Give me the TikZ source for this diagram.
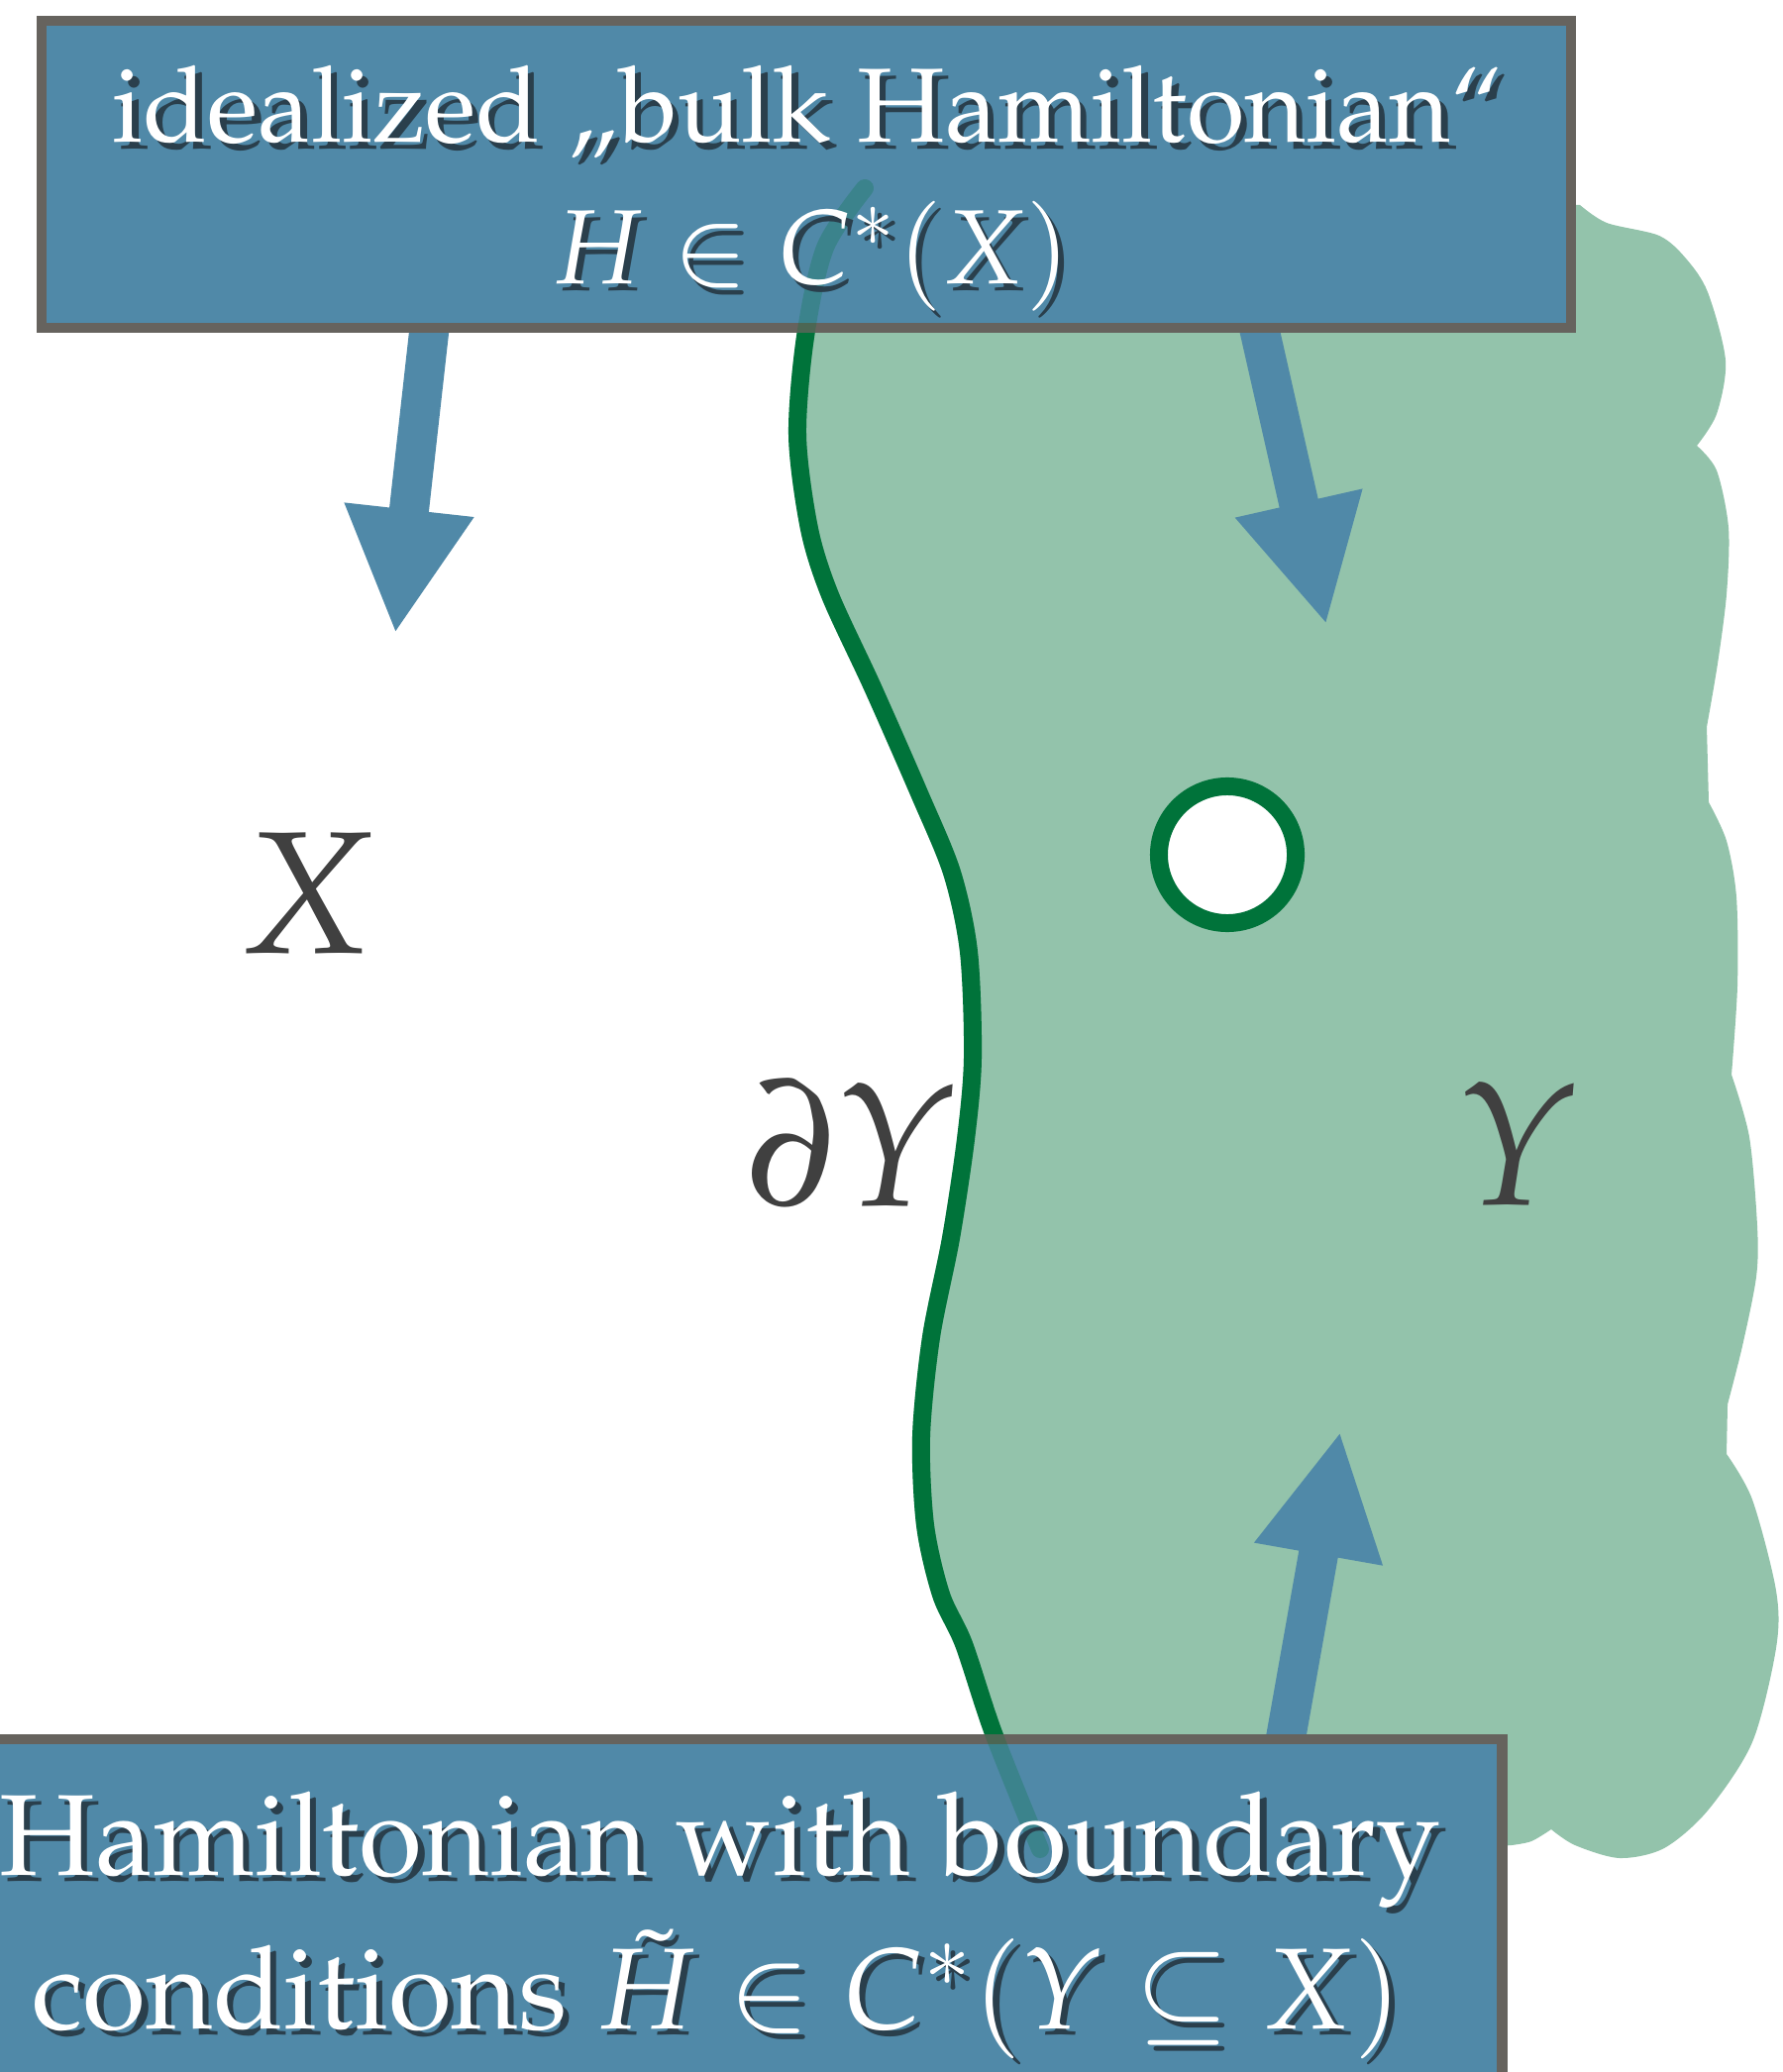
\documentclass[tikz,border=0pt]{standalone}
\usepackage[T1]{fontenc}
\usepackage{mathpazo}
\usepackage{amsmath}
\usepackage{tikz}
\usetikzlibrary{positioning,arrows.meta}

\definecolor{boxblue}{HTML}{5089A8}
\definecolor{framegray}{HTML}{66635E}
\definecolor{blobgreen}{HTML}{93C3AB}
\definecolor{linegreen}{HTML}{00733A}
\definecolor{labelgray}{HTML}{404040}
\definecolor{textshadow}{HTML}{2A3F4C}

% white text with a dark drop shadow
\newcommand{\shadowed}[1]{\rlap{\kern1.8pt\raisebox{-1.8pt}{\color{textshadow}#1}}#1}

% the boundary dY, top to bottom
\newcommand{\bdrypts}{(873,190) (833,250) (813,340) (805,440) (817,534) (838,601) (881,694) (928,801) (961,881) (978,961) (982,1068) (975,1150) (960,1250) (940,1350) (930,1450) (934,1540) (950,1610) (973,1660) (1003,1750) (1050,1867)}

\begin{document}
\begin{tikzpicture}[
        x=0.01cm, y=-0.01cm,
        hambox/.style={draw=framegray, line width=0.1cm, fill=boxblue, inner sep=0pt},
        boxtext/.style={text=white, anchor=base, inner sep=0pt},
        blockarrow/.style={draw=boxblue, line width=0.4cm, -{Triangle[width=1.22cm, length=1.26cm]}},
        setlabel/.style={text=labelgray, anchor=base, inner sep=0pt, font=\fontsize{50}{60}\selectfont},
        hole/.style={circle, draw=linegreen, line width=0.18cm, fill=white, minimum size=1.38cm, inner sep=0pt},
        boundary/.style={linegreen, line width=0.18cm, line cap=round}
    ]
        \useasboundingbox (0,0) rectangle (1799,2092);
        \clip (0,0) rectangle (1799,2092);

        % Region Y
        \fill[blobgreen] plot[smooth] coordinates {\bdrypts}
            -- (1300,1878) -- (1526,1863)
            -- plot[smooth] coordinates {(1526,1863) (1546,1859) (1566,1847)}
            -- plot[smooth] coordinates {(1566,1847) (1590,1863) (1635,1876) (1680,1866) (1724,1828) (1769,1759) (1793,1664) (1793,1606) (1769,1514) (1743,1468)}
            -- plot[smooth] coordinates {(1744,1418) (1759,1359) (1773,1289) (1774,1238) (1766,1148) (1748,1085)}
            -- plot[smooth] coordinates {(1748,1085) (1754,995) (1753,906) (1743,849) (1725,810)}
            -- plot[smooth] coordinates {(1723,734) (1734,670) (1743,600) (1745,533) (1733,475) (1713,450)}
            -- plot[smooth] coordinates {(1713,450) (1733,418) (1742,364) (1724,295) (1702,261) (1675,238) (1622,225) (1595,207)}
            -- cycle;
        \draw[boundary] plot[smooth] coordinates {\bdrypts};
        \node[hole] (hole) at (1239,863) {};

        % Arrows
        \coordinate (xtail) at (437,300);
        \coordinate (xtip) at (399,640);
        \coordinate (ytail) at (1264,300);
        \coordinate (ytip) at (1339,631);
        \coordinate (btail) at (1290,1800);
        \coordinate (btip) at (1353,1445);
        \draw[blockarrow] (xtail) -- (xtip);
        \draw[blockarrow] (ytail) -- (ytip);
        \draw[blockarrow] (btail) -- (btip);

        % Boxes
        \node[hambox, minimum width=15.44cm, minimum height=3.10cm] (bulk) at (814,176) {};
        \node[hambox, minimum width=16.16cm, minimum height=4.43cm] (bdry) at (708,1978) {};
        % dY seen faintly through the boxes
        \draw[boundary, opacity=0.25] plot[smooth] coordinates {\bdrypts};
        \node[boxtext, font=\fontsize{30.3}{36}\selectfont] (bulk1) at (816,144) {\shadowed{idealized \quotedblbase bulk Hamiltonian\textquotedblleft}};
        \node[boxtext, font=\fontsize{30.3}{36}\selectfont] (bulk2) at (819,287) {\shadowed{$H\in C^*(X)$}};
        \node[boxtext, font=\fontsize{33.1}{40}\selectfont] (bdry1) at (727,1893) {\shadowed{Hamiltonian with boundary}};
        \node[boxtext, font=\fontsize{33.1}{40}\selectfont] (bdry2) at (724,2048) {\shadowed{conditions $\tilde{H}\in C^*(Y\subseteq X)$}};

        % Labels
        \node[setlabel] (Xlabel) at (310,962) {$X$};
        \node[setlabel] (dYlabel) at (860,1217) {$\partial Y$};
        \node[setlabel] (Ylabel) at (1532,1216) {$Y$};
\end{tikzpicture}
\end{document}
